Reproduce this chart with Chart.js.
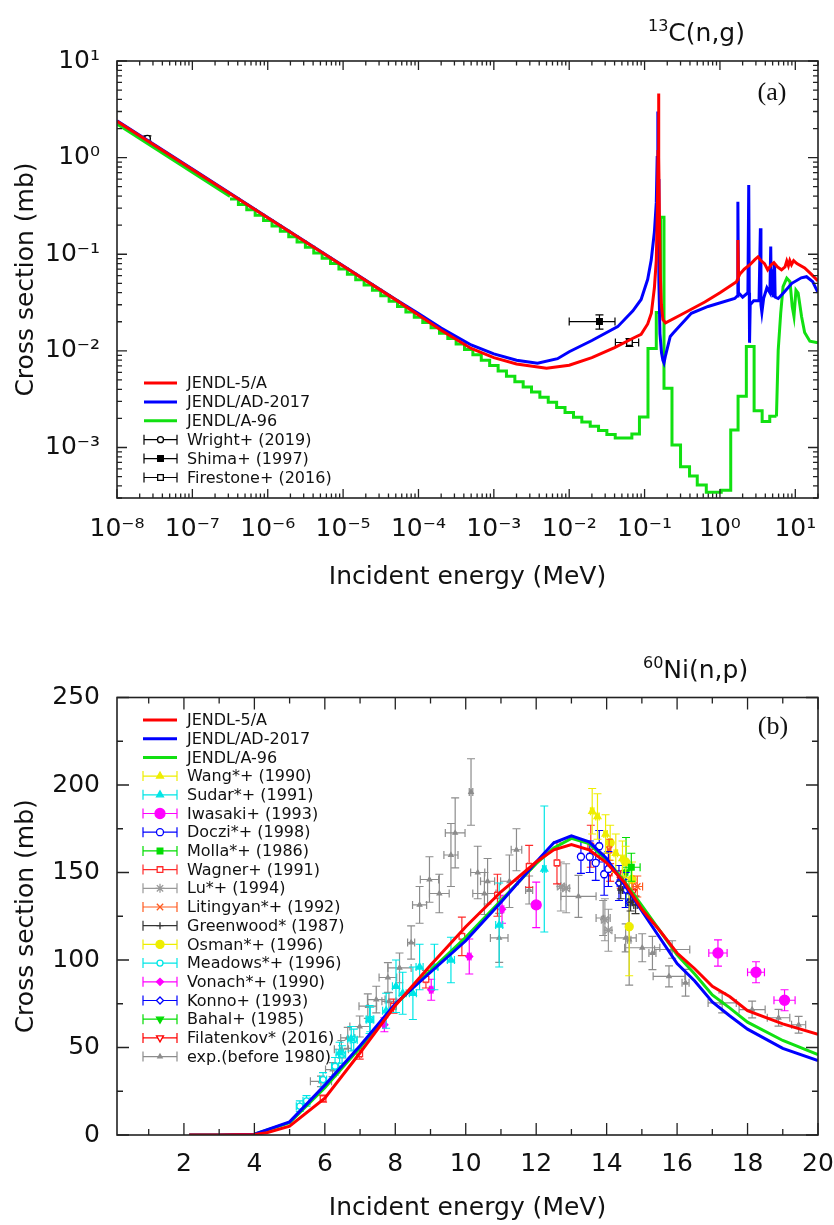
<!DOCTYPE html>
<html>
<head>
<meta charset="utf-8">
<script src="https://cdn.jsdelivr.net/npm/chart.js@4.4.1/dist/chart.umd.min.js"></script>
<style>
  body { margin: 0; background: #fff; width: 834px; height: 1225px; overflow: hidden; position: relative; }
  canvas { position: absolute; left: 0; }
  #chartA { top: 0; }
  #chartB { top: 620px; }
</style>
</head>
<body>
<canvas id="chartA" width="834" height="620"></canvas>
<canvas id="chartB" width="834" height="605"></canvas>
<script>
// ---------- (a) 13C(n,g) ----------
const energyRedA = [1e-8, 1e-7, 1e-6, 1e-5, 5e-5, 1e-4, 2e-4, 5e-4, 1e-3, 2e-3, 5e-3, 1e-2, 2e-2, 4e-2, 7e-2,
  0.09, 0.11, 0.123, 0.135, 0.143, 0.148, 0.151, 0.153, 0.155, 0.158, 0.162, 0.167, 0.175, 0.19, 0.3,
  0.63, 1.0, 1.66, 1.71, 1.73, 1.76, 1.83, 2.1, 2.5, 2.9, 3.2, 3.5, 3.9, 4.3, 4.8, 5.2, 5.8, 6.56, 7.3, 7.7,
  8.1, 8.45, 8.9, 9.5, 10.5, 13.3, 16, 20];
const xsRedA = [2.38, 0.755, 0.238, 0.0755, 0.0337, 0.0235, 0.0163, 0.0106, 0.0085, 0.0073, 0.0066, 0.0071, 0.0085, 0.0108, 0.0135,
  0.0148, 0.019, 0.0245, 0.045, 0.087, 0.3, 1.2, 4.6, 1.0, 0.2, 0.06, 0.03, 0.021, 0.0195, 0.0235,
  0.032, 0.040, 0.052, 0.055, 0.14, 0.058, 0.062, 0.07, 0.078, 0.088, 0.094, 0.086, 0.080, 0.069, 0.078, 0.082, 0.074, 0.069, 0.074, 0.085,
  0.076, 0.086, 0.078, 0.086, 0.080, 0.072, 0.063, 0.053];

const energyBlueA = [1e-8, 1e-7, 1e-6, 1e-5, 5e-5, 1e-4, 2e-4, 5e-4, 1e-3, 2e-3, 3.8e-3, 7e-3, 1e-2, 2e-2, 4.4e-2,
  7e-2, 0.09, 0.11, 0.1225, 0.135, 0.143, 0.147, 0.150, 0.152, 0.155, 0.16, 0.168, 0.175, 0.181, 0.19,
  0.219, 0.24, 0.417, 0.696, 1.57, 1.70, 1.73, 1.76, 2.0, 2.35, 2.41, 2.45, 2.47, 2.52, 2.8,
  3.3, 3.44, 3.5, 3.6, 3.8, 4.2, 4.6, 4.72, 4.8, 5.0, 5.1, 5.3, 5.4, 5.93, 7.0, 9.0, 12, 14.1, 17, 20];
const xsBlueA = [2.40, 0.76, 0.240, 0.076, 0.034, 0.0243, 0.0172, 0.0115, 0.0093, 0.0080, 0.00745, 0.0083, 0.0098, 0.0128, 0.0178,
  0.026, 0.034, 0.055, 0.087, 0.17, 0.34, 1.0, 3.0, 0.6, 0.05, 0.015, 0.0095, 0.008, 0.0075, 0.009,
  0.0141, 0.0153, 0.0245, 0.0288, 0.0348, 0.037, 0.35, 0.04, 0.036, 0.04, 0.52, 0.04, 0.0121, 0.03, 0.033,
  0.033, 0.186, 0.03, 0.025, 0.035, 0.045, 0.04, 0.12, 0.038, 0.07, 0.036, 0.08, 0.036, 0.0348, 0.040, 0.050, 0.057, 0.0585, 0.052, 0.040];

// JENDL/A-96: smooth start, group-wise staircase, smooth high-energy tail
const energyGreenLeadA = [1e-8, 3.16e-7];
const xsGreenLeadA = [2.23, 0.397];
const energyGreenStepA = [3.16e-7, 4.08e-7, 5.27e-7, 6.81e-7, 8.80e-7, 1.14e-6, 1.47e-6, 1.90e-6, 2.45e-6,
  3.16e-6, 4.08e-6, 5.27e-6, 6.81e-6, 8.80e-6, 1.14e-5, 1.47e-5, 1.90e-5, 2.45e-5,
  3.16e-5, 4.08e-5, 5.27e-5, 6.81e-5, 8.80e-5, 1.14e-4, 1.47e-4, 1.90e-4, 2.45e-4,
  3.16e-4, 4.08e-4, 5.27e-4, 6.81e-4, 8.80e-4, 1.14e-3, 1.47e-3, 1.90e-3, 2.45e-3,
  3.16e-3, 4.08e-3, 5.27e-3, 6.81e-3, 8.80e-3, 1.14e-2, 1.47e-2, 1.90e-2, 2.45e-2,
  3.16e-2, 4.08e-2, 6.78e-2, 8.55e-2, 0.111, 0.143, 0.163, 0.181, 0.231, 0.300,
  0.395, 0.500, 0.659, 1.04, 1.39, 1.74, 2.24, 2.84, 3.63, 4.58, 5.62];
const xsGreenStepA = [0.372, 0.327, 0.288, 0.253, 0.223, 0.196, 0.173, 0.152, 0.134,
  0.118, 0.103, 0.0910, 0.0801, 0.0705, 0.0620, 0.0546, 0.0480, 0.0423,
  0.0372, 0.0327, 0.0288, 0.0253, 0.0223, 0.0196, 0.0173, 0.0152, 0.0134,
  0.0118, 0.0103, 0.00910, 0.00801, 0.00705, 0.00620, 0.00546, 0.00480, 0.00423,
  0.00375, 0.00332, 0.00294, 0.00260, 0.00230, 0.00205, 0.00184, 0.00166, 0.00150,
  0.00136, 0.00125, 0.00138, 0.00207, 0.0106, 0.025, 0.242, 0.0041, 0.00106,
  0.00063, 0.000506, 0.00041, 0.000344, 0.00036, 0.00152, 0.0034, 0.0111, 0.0024, 0.00186, 0.0021, 0.0021];
const energyGreenTailA = [5.62, 5.93, 6.4, 6.88, 7.7, 8.5, 9.1, 9.6, 10.2, 10.9, 12.1, 13.3, 15.6, 20];
const xsGreenTailA = [0.0021, 0.0102, 0.0245, 0.0463, 0.0566, 0.052, 0.0288, 0.0227, 0.0426, 0.0397, 0.0227, 0.0155, 0.0126, 0.0121];

// [E, sigma, Elow, Ehigh, sigmaLow, sigmaHigh]
const wrightA = [[2.53e-8, 1.58, 2.45e-8, 2.62e-8, 1.48, 1.68]];
const shimaA = [[0.0252, 0.0201, 0.0100, 0.0405, 0.0168, 0.0236]];
const firestoneA = [[0.063, 0.0122, 0.041, 0.0835, 0.0111, 0.0134]];

const xDecadesA = [-8, -7, -6, -5, -4, -3, -2, -1, 0, 1];
const yDecadesA = [-3, -2, -1, 0, 1];

// ---------- (b) 60Ni(n,p) ----------
const energyRedB = [2.15, 3, 4, 4.35, 5, 6, 7, 8, 9, 10, 11, 12, 12.5, 13, 13.5, 14, 14.5, 15, 15.5, 16, 16.5, 17, 17.5, 18, 19, 20];
const xsRedB = [0, 0, 0.3, 1.3, 5, 21, 47, 74, 97, 119, 139, 156, 163, 166, 163, 155.5, 144.5, 129, 117, 104, 95, 85, 79, 71, 63.5, 57.5];
const energyB = [2.15, 3, 4, 5, 6, 7, 8, 9, 10, 11, 12, 12.5, 13, 13.5, 14, 14.5, 15, 15.5, 16, 16.5, 17, 17.5, 18, 19, 20];
const xsBlueB = [0, 0, 0.5, 7.5, 28.5, 51, 75, 93, 111, 133, 156, 167, 171, 167.5, 158, 143, 128, 113, 98, 88, 76, 68, 60.5, 49.5, 42.5];
const xsGreenB = [0, 0, 0.5, 7, 27, 50, 74.5, 94, 113, 134, 155, 164, 169.5, 166.5, 157, 145, 131, 117, 103, 92, 80, 72.5, 64.5, 54, 46];

// [E, sigma, dE, dSigma]
const wangB = [[13.59, 185, 0.05, 13], [13.74, 182, 0.05, 13], [13.97, 172, 0.05, 11], [14.26, 161, 0.05, 11], [14.45, 158, 0.05, 10]];
const sudarB = [[12.23, 152, 0.05, 36], [10.95, 120, 0.1, 24], [9.58, 100, 0.1, 13], [9.11, 96, 0.1, 13], [8.69, 96, 0.1, 13],
  [8.5, 81, 0.1, 15], [8.21, 81, 0.1, 12], [8.02, 85, 0.1, 15], [7.74, 71, 0.1, 10], [7.27, 66, 0.1, 8], [6.75, 55, 0.1, 7], [6.42, 47, 0.1, 6]];
const iwasakiB = [[12.0, 131.5, 0.1, 13], [17.16, 104, 0.26, 7.5], [18.24, 93, 0.24, 6], [19.05, 77, 0.3, 6]];
const docziB = [[13.27, 159, 0.05, 9.5], [13.52, 159, 0.05, 9], [13.69, 155.5, 0.05, 10], [13.79, 165, 0.05, 9], [13.93, 149, 0.05, 12], [14.05, 152, 0.05, 10]];
const mollaB = [[14.7, 153, 0.25, 8]];
const wagnerB = [[5.95, 20.8, 0.05, 2], [6.99, 46.4, 0.05, 3], [7.95, 73.6, 0.05, 4], [8.87, 89, 0.05, 5], [9.89, 113.5, 0.05, 11],
  [10.9, 137, 0.05, 12], [11.8, 153.5, 0.05, 12], [12.59, 155.5, 0.05, 12], [13.55, 165, 0.05, 12]];
const luB = [[12.7, 142, 0.1, 14], [12.85, 141, 0.1, 14], [13.95, 123, 0.1, 12], [14.05, 117, 0.1, 12]];
const litingyanB = [[14.07, 163, 0.05, 6], [14.87, 142, 0.15, 6]];
const greenwoodB = [[14.4, 140, 0.05, 5], [14.68, 133, 0.05, 5], [14.82, 131.5, 0.05, 5]];
const osmanB = [[14.1, 167, 0.05, 10], [14.54, 156, 0.05, 9], [14.72, 146, 0.05, 10], [14.64, 119, 0.05, 28]];
const meadowsB = [[5.29, 16.5, 0.1, 3], [5.48, 19.5, 0.1, 3], [5.95, 31.7, 0.1, 4], [6.29, 39.3, 0.1, 5], [6.49, 46, 0.1, 5], [6.82, 54.5, 0.1, 6], [7.29, 66, 0.1, 7]];
const vonachB = [[7.69, 63, 0.05, 4], [9.02, 83, 0.05, 6], [10.1, 102, 0.05, 10], [11.03, 129, 0.05, 8]];
const konnoB = [[14.35, 144, 0.05, 10], [14.54, 140, 0.05, 10], [14.64, 133, 0.05, 13]];
const bahalB = [[14.55, 150, 0.05, 20]];
const filatenkovB = [[14.1, 150, 0.05, 5], [14.4, 146, 0.05, 5], [14.75, 139, 0.05, 5]];
const expOldB = [[10.15, 196, 0.05, 19], [9.70, 172.6, 0.28, 20], [9.58, 160, 0.2, 18], [8.97, 146, 0.26, 13], [9.25, 138, 0.28, 11],
  [8.69, 131.5, 0.2, 10.5], [8.45, 110, 0.1, 9.5], [8.12, 95.5, 0.33, 8.5], [7.79, 90, 0.25, 8.5], [7.46, 77.4, 0.25, 7.6],
  [7.22, 73.6, 0.25, 7], [6.99, 62, 0.28, 6], [6.65, 55.5, 0.2, 6], [6.47, 49, 0.2, 5], [5.89, 30.7, 0.3, 3], [6.22, 37.4, 0.2, 4],
  [7.82, 76.4, 0.2, 5], [10.34, 150, 0.2, 15], [10.62, 145, 0.2, 13], [10.53, 138, 0.33, 12], [10.95, 112.6, 0.25, 14],
  [11.24, 145, 0.25, 15], [11.44, 163, 0.15, 12], [11.8, 140, 0.1, 8], [13.2, 136.4, 0.5, 12], [13.9, 124, 0.2, 10],
  [14.54, 112.6, 0.3, 8], [14.64, 111.6, 0.05, 26], [15.01, 107, 0.5, 8], [15.3, 104, 0.1, 9.5], [15.86, 106, 0.5, 5],
  [15.77, 90.7, 0.45, 6], [16.24, 87, 0.1, 7.6], [17.28, 75.5, 0.4, 5.7], [18.13, 71.7, 0.37, 4.8], [18.88, 67, 0.32, 4.8], [19.45, 63, 0.2, 4.8]];

const xTicksB = [2, 4, 6, 8, 10, 12, 14, 16, 18, 20];
const yTicksB = [0, 50, 100, 150, 200, 250];

// ---------- helpers ----------
const FONT = 'DejaVu Sans';
Chart.defaults.font.family = FONT;
const sup = {'-': '\u207B', '0': '\u2070', '1': '\u00B9', '2': '\u00B2', '3': '\u00B3', '4': '\u2074',
  '5': '\u2075', '6': '\u2076', '7': '\u2077', '8': '\u2078', '9': '\u2079'};
function pow10Label(v) {
  const e = Math.round(Math.log10(v));
  return '10' + String(e).split('').map(c => sup[c]).join('');
}

function curve(label, xs, ys, color, extra) {
  return Object.assign({
    label: label, type: 'line', legendRow: true, kind: 'line',
    data: xs.map((x, i) => ({x: x, y: ys[i]})),
    borderColor: color, backgroundColor: color, borderWidth: 3,
    pointRadius: 0, tension: 0, fill: false
  }, extra || {});
}

function marks(color, style, fill, r, rot) {
  return {
    type: 'line', showLine: false, legendRow: true, kind: 'err',
    borderColor: color, pointStyle: style, pointRadius: r, pointRotation: rot || 0,
    pointBackgroundColor: fill, pointBorderColor: color, pointBorderWidth: 1.3
  };
}
// rows with explicit bounds (log panel)
function expBounds(label, rows, color, style, fill, r) {
  return Object.assign(marks(color, style, fill, r), {
    label: label,
    data: rows.map(p => ({x: p[0], y: p[1]})),
    err: rows.map(p => [p[2], p[3], p[4], p[5]])
  });
}
// rows with symmetric errors
function expSym(label, rows, color, style, fill, r, rot) {
  return Object.assign(marks(color, style, fill, r, rot), {
    label: label,
    data: rows.map(p => ({x: p[0], y: p[1]})),
    err: rows.map(p => [p[0] - p[2], p[0] + p[2], p[1] - p[3], p[1] + p[3]])
  });
}

// error bars drawn just under each dataset's markers
const errorBars = {
  id: 'errorBars',
  beforeDatasetDraw(chart, args) {
    const ds = chart.data.datasets[args.index];
    if (!ds.err) return;
    const ctx = chart.ctx, a = chart.chartArea, xs = chart.scales.x, ys = chart.scales.y;
    const c = 4;
    ctx.save();
    ctx.beginPath();
    ctx.rect(a.left, a.top, a.right - a.left, a.bottom - a.top);
    ctx.clip();
    ctx.strokeStyle = ds.borderColor;
    ctx.lineWidth = 1.2;
    ds.err.forEach((e, i) => {
      const px = xs.getPixelForValue(ds.data[i].x), py = ys.getPixelForValue(ds.data[i].y);
      const x0 = xs.getPixelForValue(e[0]), x1 = xs.getPixelForValue(e[1]);
      const y0 = ys.getPixelForValue(e[2]), y1 = ys.getPixelForValue(e[3]);
      ctx.beginPath();
      if (x1 - x0 > 3) {
        ctx.moveTo(x0, py); ctx.lineTo(x1, py);
        ctx.moveTo(x0, py - c); ctx.lineTo(x0, py + c);
        ctx.moveTo(x1, py - c); ctx.lineTo(x1, py + c);
      }
      if (y0 - y1 > 3) {
        ctx.moveTo(px, y0); ctx.lineTo(px, y1);
        ctx.moveTo(px - c, y0); ctx.lineTo(px + c, y0);
        ctx.moveTo(px - c, y1); ctx.lineTo(px + c, y1);
      }
      ctx.stroke();
    });
    ctx.restore();
  }
};

// frame, inward ticks, titles, panel letter and legend
const decor = {
  id: 'decor',
  afterDraw(chart, args, o) {
    const ctx = chart.ctx, a = chart.chartArea, xs = chart.scales.x, ys = chart.scales.y;
    ctx.save();
    ctx.strokeStyle = '#222';
    ctx.lineWidth = 1.3;
    ctx.beginPath();
    o.xMarks.forEach(m => {
      const p = xs.getPixelForValue(m[0]);
      ctx.moveTo(p, a.bottom); ctx.lineTo(p, a.bottom - m[1]);
      ctx.moveTo(p, a.top); ctx.lineTo(p, a.top + m[1]);
    });
    o.yMarks.forEach(m => {
      const p = ys.getPixelForValue(m[0]);
      ctx.moveTo(a.left, p); ctx.lineTo(a.left + m[1], p);
      ctx.moveTo(a.right, p); ctx.lineTo(a.right - m[1], p);
    });
    ctx.stroke();
    ctx.lineWidth = 1.6;
    ctx.strokeRect(a.left, a.top, a.right - a.left, a.bottom - a.top);

    // reaction title with superscript mass number
    ctx.fillStyle = '#111';
    ctx.textBaseline = 'alphabetic';
    ctx.textAlign = 'left';
    ctx.font = '16px "' + FONT + '"';
    ctx.fillText(o.title.sup, o.title.x, o.title.y - 10);
    const w = ctx.measureText(o.title.sup).width;
    ctx.font = '25px "' + FONT + '"';
    ctx.fillText(o.title.text, o.title.x + w, o.title.y);

    ctx.font = '26px "Liberation Serif"';
    ctx.textAlign = 'center';
    ctx.textBaseline = 'middle';
    ctx.fillText(o.letter.text, o.letter.x, o.letter.y);

    // legend
    const L = o.legend;
    const drawPoint = Chart.helpers && Chart.helpers.drawPoint;
    chart.data.datasets.filter(d => d.legendRow).forEach((d, i) => {
      const y = L.y + i * L.dy;
      ctx.save();
      ctx.strokeStyle = d.borderColor;
      if (d.kind === 'line') {
        ctx.lineWidth = 3;
        ctx.beginPath(); ctx.moveTo(L.x0, y); ctx.lineTo(L.x1, y); ctx.stroke();
      } else {
        ctx.lineWidth = 1.2;
        ctx.beginPath();
        ctx.moveTo(L.x0, y); ctx.lineTo(L.x1, y);
        ctx.moveTo(L.x0, y - 5); ctx.lineTo(L.x0, y + 5);
        ctx.moveTo(L.x1, y - 5); ctx.lineTo(L.x1, y + 5);
        ctx.stroke();
        ctx.fillStyle = d.pointBackgroundColor;
        ctx.lineWidth = 1.3;
        const mx = (L.x0 + L.x1) / 2;
        if (drawPoint) {
          drawPoint(ctx, {pointStyle: d.pointStyle, rotation: d.pointRotation, radius: d.pointRadius, borderWidth: 1.3}, mx, y);
        } else {
          ctx.beginPath(); ctx.arc(mx, y, d.pointRadius, 0, Math.PI * 2); ctx.fill(); ctx.stroke();
        }
      }
      ctx.restore();
      ctx.fillStyle = '#111';
      ctx.font = '16px "' + FONT + '"';
      ctx.textAlign = 'left';
      ctx.textBaseline = 'middle';
      ctx.fillText(d.label, L.tx, y + 1);
    });
    ctx.restore();
  }
};

const tickFont = {family: FONT, size: 25};
const titleFont = {family: FONT, size: 25};

// inward tick mark lists
const logMarksX = [];
xDecadesA.forEach(e => {
  logMarksX.push([Math.pow(10, e), 9]);
  for (let m = 2; m <= 9; m++) if (m * Math.pow(10, e) <= 20) logMarksX.push([m * Math.pow(10, e), 4.5]);
});
const logMarksY = [];
[-4].concat(yDecadesA).forEach(e => {
  if (e >= -3) logMarksY.push([Math.pow(10, e), 10]);
  for (let m = 2; m <= 9; m++) {
    const v = m * Math.pow(10, e);
    if (v >= 3e-4 && v <= 10) logMarksY.push([v, 5]);
  }
});
const linMarksX = [];
for (let e = 1; e <= 20; e++) linMarksX.push([e, e % 2 === 0 ? 12 : 6]);
const linMarksY = [];
for (let s = 0; s <= 250; s += 25) linMarksY.push([s, s % 50 === 0 ? 12 : 6]);

// ---------- chart (a) ----------
new Chart(document.getElementById('chartA'), {
  type: 'line',
  data: {
    datasets: [
      curve('JENDL-5/A', energyRedA, xsRedA, '#ff0000'),
      curve('JENDL/AD-2017', energyBlueA, xsBlueA, '#0000ff'),
      curve('JENDL/A-96', energyGreenStepA, xsGreenStepA, '#11e011', {stepped: true}),
      curve('JENDL/A-96 low', energyGreenLeadA, xsGreenLeadA, '#11e011', {legendRow: false}),
      curve('JENDL/A-96 high', energyGreenTailA, xsGreenTailA, '#11e011', {legendRow: false}),
      expBounds('Wright+ (2019)', wrightA, '#000000', 'circle', '#ffffff', 3),
      expBounds('Shima+ (1997)', shimaA, '#000000', 'rect', '#000000', 4),
      expBounds('Firestone+ (2016)', firestoneA, '#000000', 'rect', '#ffffff', 4)
    ]
  },
  options: {
    responsive: false,
    animation: false,
    events: [],
    layout: {padding: {left: 0, right: 16, top: 61, bottom: 0}},
    plugins: {
      legend: {display: false},
      tooltip: {enabled: false},
      decor: {
        xMarks: logMarksX, yMarks: logMarksY,
        title: {sup: '13', text: 'C(n,g)', x: 648, y: 41},
        letter: {text: '(a)', x: 772, y: 93},
        legend: {x0: 144, x1: 177, tx: 187, y: 383, dy: 18.9}
      }
    },
    scales: {
      x: {
        type: 'logarithmic', min: 1e-8, max: 20,
        grid: {display: false, drawTicks: false}, border: {display: false},
        afterBuildTicks: s => { s.ticks = xDecadesA.map(e => ({value: Math.pow(10, e)})); },
        afterFit: s => { s.height = 122; s.paddingLeft = 0; s.paddingRight = 0; },
        ticks: {autoSkip: false, maxRotation: 0, padding: 16, color: '#111', font: tickFont, callback: v => pow10Label(v)},
        title: {display: true, text: 'Incident energy (MeV)', color: '#111', font: titleFont, padding: {top: 0, bottom: 28}}
      },
      y: {
        type: 'logarithmic', min: 3e-4, max: 10,
        grid: {display: false, drawTicks: false}, border: {display: false},
        afterBuildTicks: s => { s.ticks = yDecadesA.map(e => ({value: Math.pow(10, e)})); },
        afterFit: s => { s.width = 117; s.paddingTop = 0; s.paddingBottom = 0; },
        ticks: {autoSkip: false, padding: 17, color: '#111', font: tickFont, callback: v => pow10Label(v)},
        title: {display: true, text: 'Cross section (mb)', color: '#111', font: titleFont, padding: {top: 11, bottom: 0}}
      }
    }
  },
  plugins: [errorBars, decor]
});

// ---------- chart (b) ----------
new Chart(document.getElementById('chartB'), {
  type: 'line',
  data: {
    datasets: [
      curve('JENDL-5/A', energyRedB, xsRedB, '#ff0000'),
      curve('JENDL/AD-2017', energyB, xsBlueB, '#0000ff'),
      curve('JENDL/A-96', energyB, xsGreenB, '#11e011'),
      expSym('Wang*+ (1990)', wangB, '#eeee00', 'triangle', '#eeee00', 4),
      expSym('Sudar*+ (1991)', sudarB, '#00e6e6', 'triangle', '#00e6e6', 4),
      expSym('Iwasaki+ (1993)', iwasakiB, '#ff00ff', 'circle', '#ff00ff', 5),
      expSym('Doczi*+ (1998)', docziB, '#0000ff', 'circle', '#ffffff', 3.5),
      expSym('Molla*+ (1986)', mollaB, '#00dd00', 'rect', '#00dd00', 4),
      expSym('Wagner+ (1991)', wagnerB, '#ff2a2a', 'rect', '#ffffff', 4),
      expSym('Lu*+ (1994)', luB, '#999999', 'star', '#999999', 4.5),
      expSym('Litingyan*+ (1992)', litingyanB, '#ff5a1e', 'crossRot', '#ff5a1e', 4.5),
      expSym('Greenwood* (1987)', greenwoodB, '#333333', 'cross', '#333333', 3.5),
      expSym('Osman*+ (1996)', osmanB, '#eeee00', 'circle', '#eeee00', 4),
      expSym('Meadows*+ (1996)', meadowsB, '#00e6e6', 'circle', '#ffffff', 3),
      expSym('Vonach*+ (1990)', vonachB, '#ff00ff', 'rectRot', '#ff00ff', 3.5),
      expSym('Konno+ (1993)', konnoB, '#0000ff', 'rectRot', '#ffffff', 3.5),
      expSym('Bahal+ (1985)', bahalB, '#00dd00', 'triangle', '#00dd00', 4, 180),
      expSym('Filatenkov* (2016)', filatenkovB, '#ff0000', 'triangle', '#ffffff', 4, 180),
      expSym('exp.(before 1980)', expOldB, '#8c8c8c', 'triangle', '#8c8c8c', 2.5)
    ]
  },
  options: {
    responsive: false,
    animation: false,
    events: [],
    layout: {padding: {left: 0, right: 16, top: 77.5, bottom: 0}},
    plugins: {
      legend: {display: false},
      tooltip: {enabled: false},
      decor: {
        xMarks: linMarksX, yMarks: linMarksY,
        title: {sup: '60', text: 'Ni(n,p)', x: 643, y: 58},
        letter: {text: '(b)', x: 773, y: 107},
        legend: {x0: 143, x1: 177, tx: 187, y: 100, dy: 18.7}
      }
    },
    scales: {
      x: {
        type: 'linear', min: 0.1, max: 20,
        grid: {display: false, drawTicks: false}, border: {display: false},
        afterBuildTicks: s => { s.ticks = xTicksB.map(v => ({value: v})); },
        afterFit: s => { s.height = 90; s.paddingLeft = 0; s.paddingRight = 0; },
        ticks: {autoSkip: false, maxRotation: 0, padding: 14, color: '#111', font: tickFont},
        title: {display: true, text: 'Incident energy (MeV)', color: '#111', font: titleFont, padding: {top: 0, bottom: 2}}
      },
      y: {
        type: 'linear', min: 0, max: 250,
        grid: {display: false, drawTicks: false}, border: {display: false},
        afterBuildTicks: s => { s.ticks = yTicksB.map(v => ({value: v})); },
        afterFit: s => { s.width = 117; s.paddingTop = 0; s.paddingBottom = 0; },
        ticks: {autoSkip: false, padding: 17, color: '#111', font: tickFont},
        title: {display: true, text: 'Cross section (mb)', color: '#111', font: titleFont, padding: {top: 11, bottom: 0}}
      }
    }
  },
  plugins: [errorBars, decor]
});
</script>
</body>
</html>
